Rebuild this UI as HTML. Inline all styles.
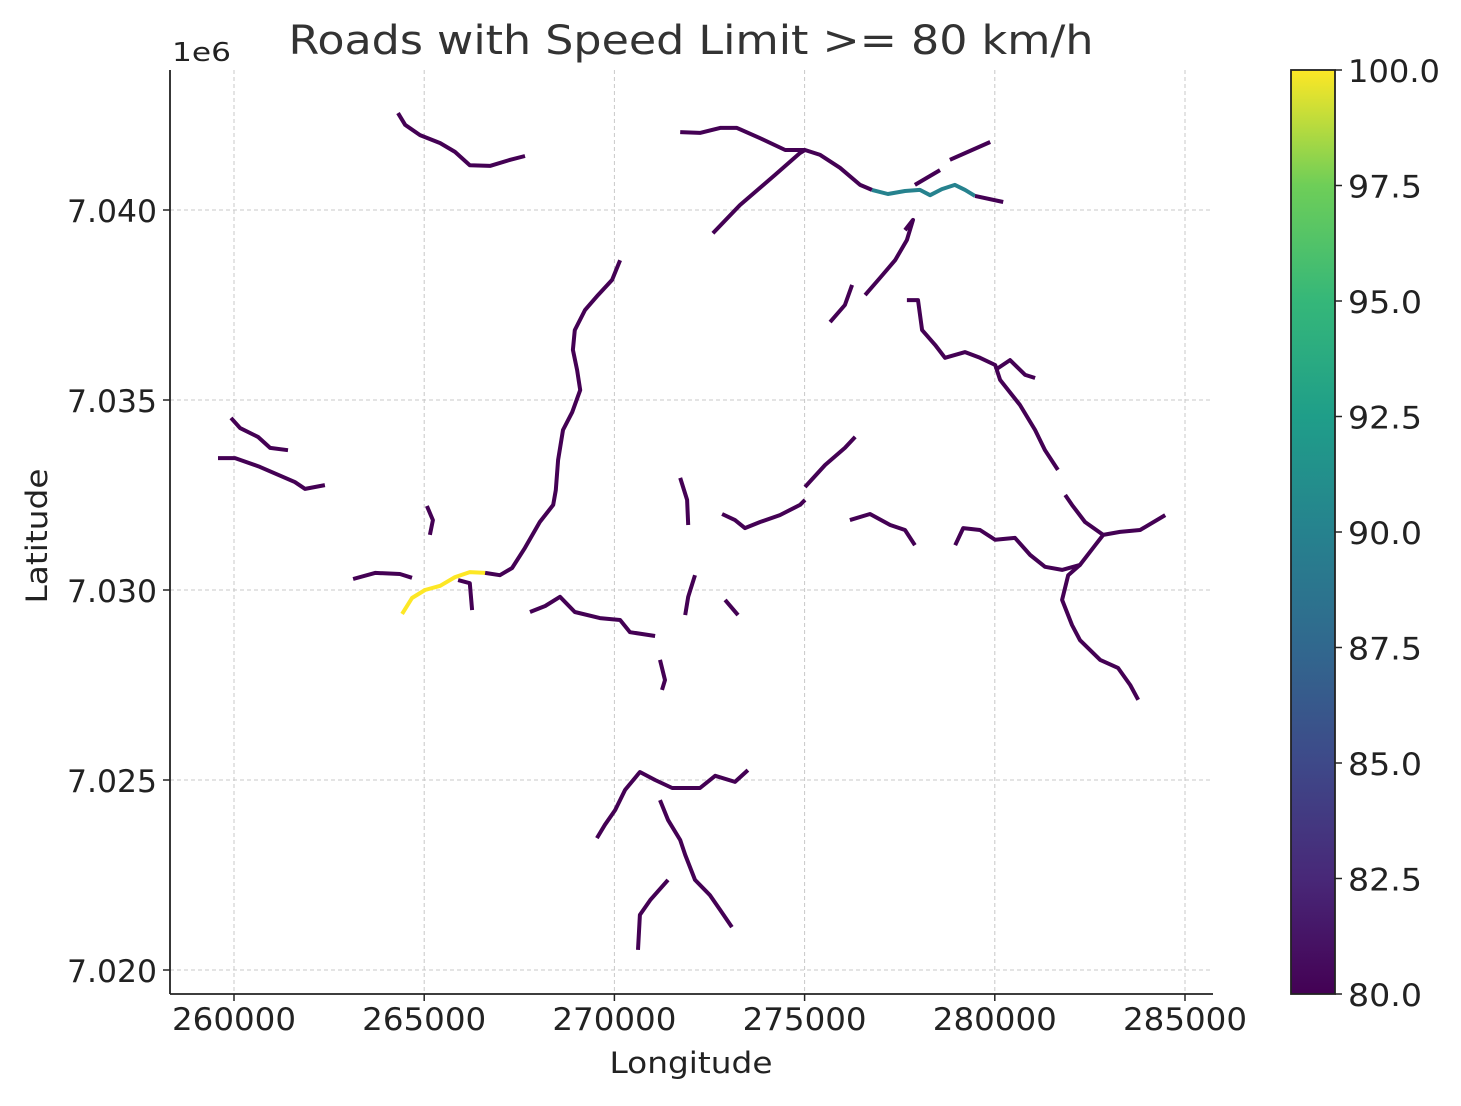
<!DOCTYPE html>
<html><head><meta charset="utf-8"><style>
body{margin:0;background:#fff;}
svg text{font-family:"DejaVu Sans","Liberation Sans",sans-serif;fill:#222;}
</style></head><body>
<svg id="chart" width="1461" height="1101" xmlns="http://www.w3.org/2000/svg">
<defs>
<linearGradient id="vir" x1="0" y1="1" x2="0" y2="0">
<stop offset="0" stop-color="#440154"/><stop offset="0.125" stop-color="#482878"/><stop offset="0.25" stop-color="#3e4989"/><stop offset="0.375" stop-color="#31688e"/><stop offset="0.5" stop-color="#26828e"/><stop offset="0.625" stop-color="#1f9e89"/><stop offset="0.75" stop-color="#35b779"/><stop offset="0.875" stop-color="#6ece58"/><stop offset="1" stop-color="#fde725"/>
</linearGradient>
</defs>
<text x="691" y="54" font-size="40" text-anchor="middle" textLength="805" lengthAdjust="spacingAndGlyphs" style="fill:#333">Roads with Speed Limit &gt;= 80 km/h</text>
<text x="172" y="61" font-size="26" textLength="59" lengthAdjust="spacingAndGlyphs">1e6</text>
<g id="grid"></g>
<g id="roads"></g>
<line x1="170" y1="70" x2="170" y2="994" stroke="#222" stroke-width="1.8"/>
<line x1="170" y1="994" x2="1213" y2="994" stroke="#222" stroke-width="1.8"/>
<g id="ticks"></g>
<text x="691" y="1073" font-size="29" text-anchor="middle" textLength="163" lengthAdjust="spacingAndGlyphs">Longitude</text>
<text x="47" y="536" font-size="29" text-anchor="middle" textLength="135" lengthAdjust="spacingAndGlyphs" transform="rotate(-90 47 536)">Latitude</text>
<rect x="1291" y="70" width="44" height="924" fill="url(#vir)" stroke="#222" stroke-width="1.8"/>
<g id="cbticks"></g>
</svg>
<script>
const xTicks=[260000,265000,270000,275000,280000,285000];
const yTicks=[7.020,7.025,7.030,7.035,7.040];
const cbTicks=[80,82.5,85,87.5,90,92.5,95,97.5,100];
const roadSpeeds=[100,90,80,80,80,80,80,80,80,80,80,80,80,80,80,80,80,80,80,80,80,80,80,80,80,80,80,80,80,80,80,80];
// lon, lat in thousands of metres
const roadLons=[
[264.42,264.68,265.02,265.42,265.81,266.20,266.60],
[276.77,277.19,277.64,278.03,278.30,278.61,278.95,279.22,279.48],
[266.60,266.99,267.31,267.65,268.04,268.39,268.46,268.52,268.65,268.89,269.10,269.02,268.91,268.96,269.23,269.57,269.94,270.15],
[271.73,272.25,272.78,273.22,273.83,274.49,275.01,275.41,275.93,276.46,276.77],
[279.48,280.22],
[272.59,273.30,274.22,274.88,275.01],
[277.90,278.56],
[278.82,279.88],
[264.31,264.50,264.89,265.42,265.81,266.20,266.73,267.26,267.65],
[259.92,260.16,260.63,260.95,261.42],
[259.58,260.03,260.68,261.60,261.87,262.39],
[263.13,263.71,264.36,264.68],
[265.07,265.23,265.15],
[265.89,266.20,266.26],
[267.78,268.18,268.57,268.96,269.62,270.15,270.41,271.07],
[271.20,271.33,271.25],
[271.73,271.91,271.94],
[272.83,273.17,273.43,273.83,274.35,274.88,275.01],
[275.01,275.54,276.06,276.33],
[271.86,271.94,272.12],
[272.91,273.25],
[276.19,276.72,277.25,277.64,277.90],
[278.96,279.17,279.61,280.01,280.53,280.93,281.32,281.77,282.24,282.64,282.85,283.29,283.82,284.48],
[282.24,281.93,281.77,282.03,282.24,282.77,283.24,283.56,283.77],
[282.85,282.37,282.03,281.85],
[281.66,281.32,281.06,280.66,280.14,280.01,279.61,279.22,278.69,278.43,278.09,277.98,277.69],
[280.01,280.40,280.80,281.06],
[275.67,276.06,276.25],
[276.59,276.98,277.38,277.69,277.85,277.64],
[269.54,269.75,270.02,270.28,270.67,271.07,271.52,272.25,272.65,273.17,273.51],
[271.20,271.41,271.73,271.86,272.12,272.51,272.78,273.09],
[271.41,270.94,270.67,270.62]
];
const roadLats=[
[7029.37,7029.79,7030.00,7030.11,7030.34,7030.47,7030.45],
[7040.53,7040.42,7040.50,7040.53,7040.39,7040.55,7040.66,7040.53,7040.37],
[7030.45,7030.39,7030.58,7031.11,7031.79,7032.24,7032.63,7033.42,7034.21,7034.68,7035.26,7035.79,7036.32,7036.84,7037.37,7037.76,7038.16,7038.68],
[7042.05,7042.03,7042.16,7042.16,7041.89,7041.58,7041.58,7041.45,7041.11,7040.66,7040.53],
[7040.37,7040.21],
[7039.39,7040.13,7040.92,7041.50,7041.58],
[7040.66,7041.05],
[7041.32,7041.79],
[7042.55,7042.24,7041.97,7041.76,7041.53,7041.18,7041.16,7041.32,7041.42],
[7034.53,7034.26,7034.03,7033.74,7033.68],
[7033.47,7033.47,7033.24,7032.84,7032.66,7032.76],
[7030.29,7030.45,7030.42,7030.32],
[7032.21,7031.84,7031.45],
[7030.26,7030.18,7029.47],
[7029.42,7029.58,7029.82,7029.42,7029.26,7029.21,7028.89,7028.79],
[7028.16,7027.63,7027.37],
[7032.95,7032.37,7031.71],
[7032.00,7031.84,7031.63,7031.79,7031.97,7032.24,7032.37],
[7032.71,7033.29,7033.74,7034.03],
[7029.34,7029.82,7030.39],
[7029.74,7029.34],
[7031.84,7032.00,7031.71,7031.58,7031.18],
[7031.18,7031.63,7031.58,7031.32,7031.37,7030.92,7030.61,7030.53,7030.66,7031.18,7031.45,7031.53,7031.58,7031.97],
[7030.66,7030.39,7029.74,7029.08,7028.68,7028.16,7027.95,7027.50,7027.11],
[7031.45,7031.79,7032.24,7032.50],
[7033.16,7033.68,7034.21,7034.87,7035.53,7035.92,7036.11,7036.26,7036.11,7036.45,7036.84,7037.63,7037.63],
[7035.79,7036.05,7035.66,7035.58],
[7037.05,7037.50,7038.03],
[7037.76,7038.21,7038.68,7039.21,7039.74,7039.47],
[7023.47,7023.82,7024.21,7024.74,7025.21,7025.00,7024.79,7024.79,7025.11,7024.95,7025.26],
[7024.47,7023.95,7023.42,7023.03,7022.37,7021.97,7021.58,7021.13],
[7022.37,7021.84,7021.45,7020.53]
];
const NS="http://www.w3.org/2000/svg";
const X0=170,X1=1213,Y0=70,Y1=994;
const xs=v=>234+(v-260000)*0.03804;
const ys=v=>970-(v-7020000)*0.038;
const cbY=v=>994-(v-80)/20*924;
const stops=[[68,1,84],[72,40,120],[62,73,137],[49,104,142],[38,130,142],[31,158,137],[53,183,121],[110,206,88],[253,231,37]];
function viridis(v){let t=Math.max(0,Math.min(1,(v-80)/20))*8;let i=Math.min(7,Math.floor(t)),f=t-i;let a=stops[i],b=stops[i+1];return `rgb(${a.map((c,k)=>Math.round(c+(b[k]-c)*f)).join(',')})`;}
function mk(tag,attrs,parent){const e=document.createElementNS(NS,tag);for(const k in attrs)e.setAttribute(k,attrs[k]);parent.appendChild(e);return e;}
const grid=document.getElementById('grid'),ticks=document.getElementById('ticks'),roads=document.getElementById('roads'),cb=document.getElementById('cbticks');
xTicks.forEach(v=>{const x=xs(v);
const g=mk('line',{x1:x,x2:x,y1:Y0,y2:Y1,stroke:'#c8c8c8','stroke-width':1,'stroke-dasharray':'4,3'},grid);


const t=mk('line',{x1:x,x2:x,y1:Y1,y2:Y1+7,stroke:'#222','stroke-width':1.5},ticks);


const l=mk('text',{x:x,y:1030,'font-size':31,'text-anchor':'middle',textLength:124,lengthAdjust:'spacingAndGlyphs'},ticks);l.textContent=v;

});
yTicks.forEach(v=>{const y=ys(v*1e6);
const g=mk('line',{x1:X0,x2:X1,y1:y,y2:y,stroke:'#c8c8c8','stroke-width':1,'stroke-dasharray':'4,3'},grid);


const t=mk('line',{x1:X0-7,x2:X0,y1:y,y2:y,stroke:'#222','stroke-width':1.5},ticks);


const l=mk('text',{x:157,y:y+12,'font-size':31,'text-anchor':'end',textLength:90,lengthAdjust:'spacingAndGlyphs'},ticks);l.textContent=v.toFixed(3);

});
roadLons.forEach((lons,i)=>{const pts=lons.map((lo,j)=>xs(lo*1000).toFixed(1)+','+ys(roadLats[i][j]*1000).toFixed(1)).join(' ');
const p=mk('polyline',{points:pts,fill:'none',stroke:viridis(roadSpeeds[i]),'stroke-width':4,'stroke-linejoin':'round','stroke-linecap':'butt'},roads);

});
cbTicks.forEach(v=>{const y=cbY(v);
const t=mk('line',{x1:1335,x2:1342,y1:y,y2:y,stroke:'#222','stroke-width':1.5},cb);


const l=mk('text',{x:1348,y:y+12,'font-size':31,textLength:v>=100?92:74,lengthAdjust:'spacingAndGlyphs'},cb);l.textContent=v.toFixed(1);

});
</script>
</body></html>
